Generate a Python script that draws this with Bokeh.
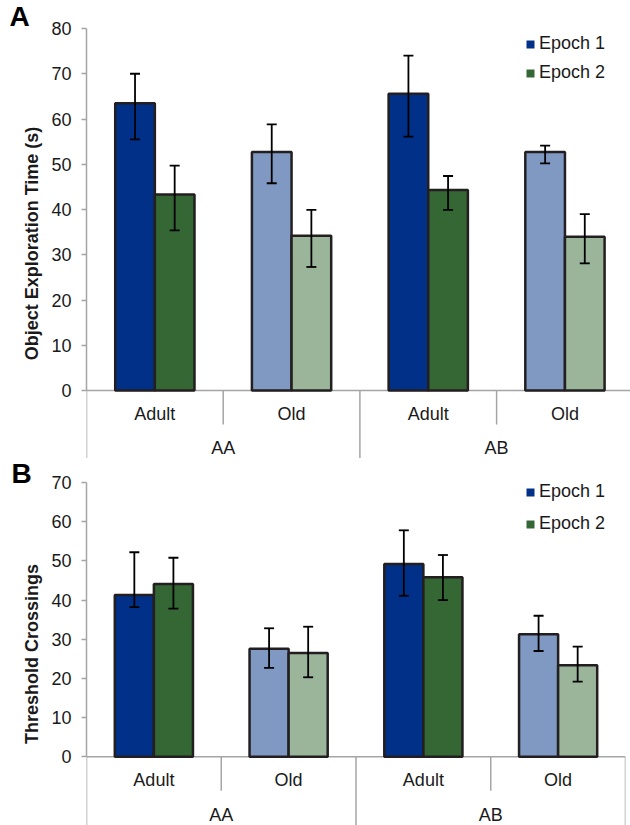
from bokeh.plotting import figure
from bokeh.models import (ColumnDataSource, Range1d, FixedTicker, Whisker, TeeHead,
                          Legend, LegendItem, Title)
from bokeh.layouts import column
from bokeh.embed import file_html
from bokeh.resources import INLINE
from bokeh.core.properties import value

# ---- data -------------------------------------------------------------
groups = ["AA", "AA", "AB", "AB"]
ages = ["Adult", "Old", "Adult", "Old"]
series_names = ["Epoch 1", "Epoch 2"]

# Panel A: object exploration time (s)
expl_e1 = [63.5, 52.7, 65.6, 52.7]
expl_e1_lo = [55.5, 45.8, 56.1, 50.2]
expl_e1_hi = [70.0, 58.8, 74.0, 54.1]
expl_e2 = [43.3, 34.2, 44.3, 34.0]
expl_e2_lo = [35.4, 27.3, 39.9, 28.1]
expl_e2_hi = [49.7, 39.9, 47.4, 39.0]

# Panel B: threshold crossings
cross_e1 = [41.3, 27.6, 49.2, 31.3]
cross_e1_lo = [38.2, 22.7, 41.1, 27.0]
cross_e1_hi = [52.2, 32.8, 57.8, 36.0]
cross_e2 = [44.1, 26.5, 45.8, 23.4]
cross_e2_lo = [37.8, 20.3, 40.0, 19.2]
cross_e2_hi = [50.8, 33.2, 51.5, 28.1]

# ---- style ------------------------------------------------------------
FONT = "Liberation Sans"
TEXT = "#1a1a1a"
GREY = "#a5a5a5"
EDGE = "#231f20"
E1_COLORS = {"Adult": "#003087", "Old": "#8099c3"}
E2_COLORS = {"Adult": "#346734", "Old": "#9bb59b"}
BAR_W = 0.29


def make_panel(letter, ylabel, y_top, unit_px, top_border, frame_h, cat_px,
               frame_w, right_border, e1, e1_lo, e1_hi, e2, e2_lo, e2_hi,
               title_offset, title_standoff, legend_xy, legend_spacing,
               group_label_px):
    y_start = y_top - frame_h / unit_px
    n = len(ages)
    p = figure(frame_width=frame_w, frame_height=frame_h,
               x_range=Range1d(0, frame_w / cat_px), y_range=Range1d(y_start, y_top),
               x_axis_location=None, output_backend="svg", toolbar_location=None,
               min_border_left=86, min_border_right=right_border,
               min_border_top=top_border, min_border_bottom=0,
               outline_line_color=None, background_fill_color="white")
    p.grid.visible = False

    # panel letter
    p.title = Title(text=letter, align="left", offset=title_offset,
                    standoff=title_standoff, text_font=FONT, text_font_size="28px",
                    text_font_style="bold", text_color="black")

    def dy(px):
        return px / unit_px

    # category axis: baseline, separators and two rows of labels
    p.segment(x0=[0], y0=[0], x1=[n], y1=[0], line_color=GREY, line_width=1.5)
    edges = list(range(n + 1))
    group_edge = [i == 0 or i == n or groups[i] != groups[i - 1] for i in edges]
    p.segment(x0=edges, x1=edges, y0=[0] * len(edges),
              y1=[-dy(70) if g else -dy(34) for g in group_edge],
              line_color=GREY, line_width=1.5)
    centers = [i + 0.5 for i in range(n)]
    p.text(x=centers, y=[-dy(23)] * n, text=ages, text_align="center",
           text_baseline="middle", text_font=value(FONT), text_font_size="18px",
           text_color=TEXT)
    uniq = list(dict.fromkeys(groups))
    gx = [sum(c for c, g in zip(centers, groups) if g == u) /
          groups.count(u) for u in uniq]
    p.text(x=gx, y=[-dy(group_label_px)] * len(uniq), text=uniq, text_align="center",
           text_baseline="middle", text_font=value(FONT), text_font_size="18px",
           text_color=TEXT)

    # bars
    src = ColumnDataSource(dict(
        x1=[c - BAR_W / 2 for c in centers], x2=[c + BAR_W / 2 for c in centers],
        e1=e1, e1_lo=e1_lo, e1_hi=e1_hi, e2=e2, e2_lo=e2_lo, e2_hi=e2_hi,
        c1=[E1_COLORS[a] for a in ages], c2=[E2_COLORS[a] for a in ages]))
    p.vbar(x="x1", top="e1", bottom=0, width=BAR_W, fill_color="c1",
           line_color=EDGE, line_width=2.5, source=src)
    p.vbar(x="x2", top="e2", bottom=0, width=BAR_W, fill_color="c2",
           line_color=EDGE, line_width=2.5, source=src)

    # error bars, drawn above the bars
    for base, lo, hi in (("x1", "e1_lo", "e1_hi"), ("x2", "e2_lo", "e2_hi")):
        w = Whisker(source=src, base=base, lower=lo, upper=hi, level="overlay",
                    line_color="black", line_width=1.8,
                    upper_head=TeeHead(size=10, line_color="black", line_width=1.8),
                    lower_head=TeeHead(size=10, line_color="black", line_width=1.8))
        p.add_layout(w)

    # legend swatches (fill only, no outline); the points sit outside the view
    r1 = p.vbar(x=[-5], top=[1], width=0.1, fill_color=E1_COLORS["Adult"], line_color=None)
    r2 = p.vbar(x=[-5], top=[1], width=0.1, fill_color=E2_COLORS["Adult"], line_color=None)
    legend = Legend(items=[LegendItem(label=series_names[0], renderers=[r1]),
                           LegendItem(label=series_names[1], renderers=[r2])],
                    location=legend_xy, margin=0, padding=0,
                    spacing=legend_spacing, glyph_width=10, glyph_height=10,
                    label_standoff=4, label_text_font=FONT,
                    label_text_font_size="18px", label_text_color=TEXT,
                    border_line_color=None, background_fill_alpha=0)
    p.add_layout(legend)

    # value axis
    ax = p.yaxis[0]
    ax.bounds = (0, y_top)
    ax.ticker = FixedTicker(ticks=list(range(0, y_top + 1, 10)))
    ax.axis_label = ylabel
    ax.axis_label_text_font = FONT
    ax.axis_label_text_font_style = "bold"
    ax.axis_label_text_font_size = "18px"
    ax.axis_label_text_color = TEXT
    ax.axis_label_standoff = 6
    ax.major_label_text_font = FONT
    ax.major_label_text_font_size = "18px"
    ax.major_label_text_color = TEXT
    ax.major_label_standoff = 10
    ax.major_tick_out = 5
    ax.major_tick_in = 0
    ax.minor_tick_out = 0
    ax.minor_tick_in = 0
    ax.axis_line_color = GREY
    ax.axis_line_width = 1.5
    ax.major_tick_line_color = GREY
    ax.major_tick_line_width = 1.5
    return p


pa = make_panel("A", "Object Exploration Time (s)", 80, 4.525, 28, 430, 136.7,
                544, 0, expl_e1, expl_e1_lo, expl_e1_hi, expl_e2, expl_e2_lo,
                expl_e2_hi, -77, -6, (439, 375), 8, 57)
pb = make_panel("B", "Threshold Crossings", 70, 3.919, 24, 343, 134.75,
                539, 5, cross_e1, cross_e1_lo, cross_e1_hi, cross_e2, cross_e2_lo,
                cross_e2_hi, -75, -12, (439, 291), 11, 58)

layout = column(pa, pb, spacing=0)
open("out.html", "w").write(file_html(layout, INLINE))
